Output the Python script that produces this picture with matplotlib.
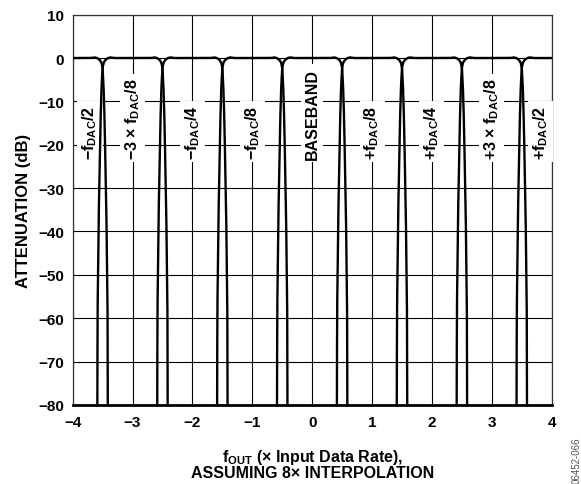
import numpy as np
import matplotlib
matplotlib.use("Agg")
import matplotlib.pyplot as plt

plt.rcParams['font.family'] = ['Liberation Sans', 'DejaVu Sans']
plt.rcParams['font.weight'] = 'bold'
plt.rcParams['mathtext.fontset'] = 'custom'
plt.rcParams['mathtext.rm'] = 'Liberation Sans:bold'
plt.rcParams['mathtext.it'] = 'Liberation Sans:bold'
plt.rcParams['mathtext.bf'] = 'Liberation Sans:bold'

# image band centres (x input data rate)
band_centres = [-4, -3, -2, -1, 0, 1, 2, 3, 4]

# one filter edge: distance from band centre vs attenuation
edge_offset = [0.00, 0.30, 0.37, 0.41, 0.45, 0.48, 0.50, 0.515, 0.525, 0.536, 0.55, 0.565, 0.583, 0.588, 0.59]
edge_db = [0.0, 0.0, 0.15, 0.0, -0.4, -1.0, -2.2, -6.0, -10.0, -16.0, -26.0, -37.0, -58.0, -80.0, -100.0]

# band labels
label_x = [-3.71, -3, -2, -1, 0, 1, 2, 3, 3.81]
label_text = ['\u2212$\\mathregular{f_{DAC}}$/2',
              '\u22123 \u00d7 $\\mathregular{f_{DAC}}$/8',
              '\u2212$\\mathregular{f_{DAC}}$/4',
              '\u2212$\\mathregular{f_{DAC}}$/8',
              'BASEBAND',
              '+$\\mathregular{f_{DAC}}$/8',
              '+$\\mathregular{f_{DAC}}$/4',
              '+3 \u00d7 $\\mathregular{f_{DAC}}$/8',
              '+$\\mathregular{f_{DAC}}$/2']

fig = plt.figure(figsize=(5.81, 4.85), dpi=100)
ax = fig.add_axes([0.125, 0.163, 0.8246, 0.8047])

for c in band_centres:
    xs = np.linspace(c - edge_offset[-1], c + edge_offset[-1], 1200)
    xs = xs[(xs >= -4) & (xs <= 4)]
    ys = np.interp(np.abs(xs - c), edge_offset, edge_db)
    ax.plot(xs, ys, color='black', lw=1.7, zorder=4, solid_joinstyle='round')

for lx, txt in zip(label_x, label_text):
    ax.text(lx, -23.2, txt, rotation=90, ha='center', va='bottom', fontsize=11.5,
            fontweight='bold', zorder=3,
            bbox=dict(boxstyle='square,pad=0.2', fc='white', ec='none'))

ax.set_xlim(-4, 4)
ax.set_ylim(-80, 10)
ax.set_xticks(np.arange(-4, 5, 1))
ax.set_yticks(np.arange(-80, 11, 10))
ax.grid(True, color='black', lw=0.8, zorder=1)
ax.set_axisbelow(True)
ax.tick_params(length=0, labelsize=11, pad=7)
ax.tick_params(axis='y', pad=6)
for lab in ax.get_xticklabels() + ax.get_yticklabels():
    lab.set_fontweight('bold')

for side in ['top', 'left', 'right']:
    ax.spines[side].set_linewidth(0.9)
    ax.spines[side].set_color('#333333')
ax.spines['bottom'].set_linewidth(2.0)

ax.set_ylabel('ATTENUATION (dB)', fontsize=12, fontweight='bold', labelpad=5)
ax.set_xlabel('$\\mathregular{f_{OUT}}$ (\u00d7 Input Data Rate),\nASSUMING 8\u00d7 INTERPOLATION',
              fontsize=11.5, fontweight='bold', labelpad=13, linespacing=0.95)

fig.text(0.993, 0.003, '06452-066', rotation=90, ha='center', va='bottom',
         fontsize=7, fontweight='normal', color='#555555')

fig.savefig('out.png', dpi=100)
